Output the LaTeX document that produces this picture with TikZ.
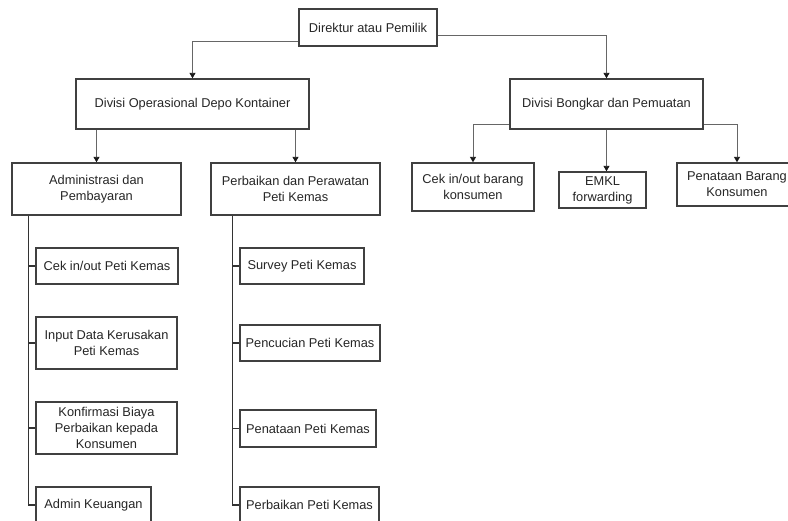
\documentclass[tikz,border=0pt]{standalone}
\usepackage{fontspec}
\setmainfont{Liberation Sans}
\usetikzlibrary{arrows.meta,calc}
\tikzset{
  box/.style={draw=black!75, line width=1.4pt, fill=white, inner sep=0pt, align=center,
    text=black!85, font=\fontsize{12.8}{16}\selectfont},
  conn/.style={draw=black!60, line width=0.9pt, -{Triangle[width=6pt,length=5.5pt,color=black!90]}},
  tree/.style={draw=black!80, line width=1.5pt},
}
\begin{document}
\begin{tikzpicture}[x=1pt,y=-1pt]
\useasboundingbox (0,0) rectangle (788,520);
\clip (0,0) rectangle (788,520);
% level 0
\node[box, minimum width=138, minimum height=37] (dir) at (368,27.5) {Direktur atau Pemilik};
% level 1
\node[box, minimum width=233, minimum height=50] (dops) at (192.5,104) {Divisi Operasional Depo Kontainer};
\node[box, minimum width=193, minimum height=50] (dbong) at (606.5,104) {Divisi Bongkar dan Pemuatan};
% level 2
\node[box, minimum width=169, minimum height=52] (adm) at (96.5,189) {Administrasi dan\\Pembayaran};
\node[box, minimum width=169, minimum height=52] (perb) at (295.5,189) {Perbaikan dan Perawatan\\Peti Kemas};
\node[box, minimum width=122, minimum height=48] (cekb) at (473,187) {Cek in/out barang\\konsumen};
\node[box, minimum width=87, minimum height=36] (emkl) at (602.5,190) {EMKL\\forwarding};
\node[box, minimum width=120, minimum height=43] (pbar) at (737,184.5) {Penataan Barang\\Konsumen};
% left column
\node[box, minimum width=142, minimum height=36] (c1) at (107,266) {Cek in/out Peti Kemas};
\node[box, minimum width=141, minimum height=52] (c2) at (106.5,343) {Input Data Kerusakan\\Peti Kemas};
\node[box, minimum width=141, minimum height=52] (c3) at (106.5,428) {Konfirmasi Biaya\\Perbaikan kepada\\Konsumen};
\node[box, minimum width=115, minimum height=36] (c4) at (93.5,505) {Admin Keuangan};
% right column
\node[box, minimum width=124, minimum height=36] (r1) at (302,266) {Survey Peti Kemas};
\node[box, minimum width=140, minimum height=36] (r2) at (310,343) {Pencucian Peti Kemas};
\node[box, minimum width=136, minimum height=37] (r3) at (308,428.5) {Penataan Peti Kemas};
\node[box, minimum width=139, minimum height=36] (r4) at (309.5,505) {Perbaikan Peti Kemas};
% connectors from top
\draw[conn] ($(dir.west)+(0,14)$) -| (dops.north);
\draw[conn] ($(dir.east)+(0,7.5)$) -| (dbong.north);
\draw[conn] (adm.north |- dops.south) -- (adm.north);
\draw[conn] (perb.north |- dops.south) -- (perb.north);
\draw[conn] ($(dbong.west)+(0,20)$) -| (cekb.north);
\draw[conn] (dbong.south) -- (dbong.south |- emkl.north);
\draw[conn] ($(dbong.east)+(0,20)$) -| (pbar.north);
% left tree
\coordinate (lt) at ($(adm.south west)+(17,0)$);
\draw[tree] (lt) |- (c4.west);
\draw[tree] (lt |- c1.west) -- (c1.west);
\draw[tree] (lt |- c2.west) -- (c2.west);
\draw[tree] (lt |- c3.west) -- (c3.west);
% right tree
\coordinate (rt) at ($(perb.south west)+(22,0)$);
\draw[tree] (rt) |- (r4.west);
\draw[tree] (rt |- r1.west) -- (r1.west);
\draw[tree] (rt |- r2.west) -- (r2.west);
\draw[tree] (rt |- r3.west) -- (r3.west);
\end{tikzpicture}
\end{document}
